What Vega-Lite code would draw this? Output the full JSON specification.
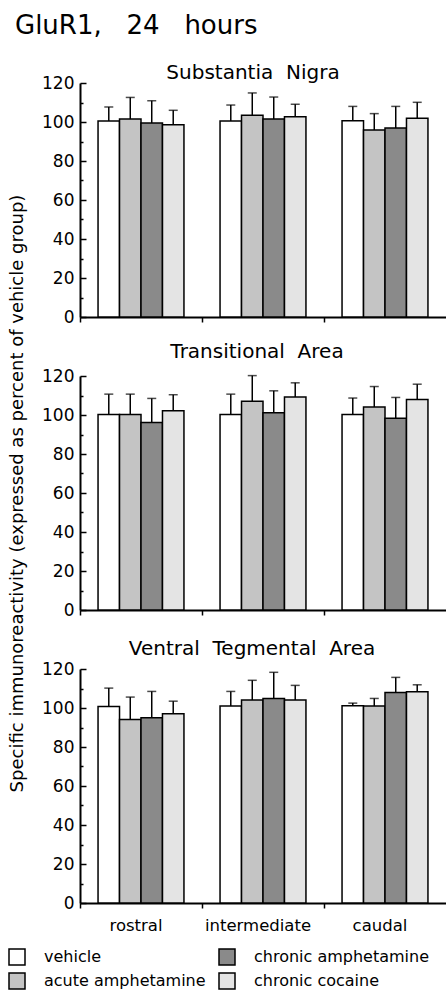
{
  "$schema": "https://vega.github.io/schema/vega-lite/v6.json",
  "padding": {"left": 8, "top": 13, "right": 0, "bottom": 5},
  "config": {
    "font": "DejaVu Sans",
    "view": {"stroke": null}
  },
  "title": {"text": "GluR1,\u00a0 \u00a024\u00a0 \u00a0hours", "anchor": "start", "fontSize": 26, "font": "DejaVu Sans", "fontWeight": "normal", "color": "black", "offset": 24, "dx": 7},
  "bounds": "flush",
  "spacing": 59,
  "datasets": {
    "glur": [
      {"region": "Substantia Nigra", "level": "rostral", "treatment": "vehicle", "value": 100.5, "upper": 107.7},
      {"region": "Substantia Nigra", "level": "rostral", "treatment": "acute amphetamine", "value": 101.5, "upper": 112.6},
      {"region": "Substantia Nigra", "level": "rostral", "treatment": "chronic amphetamine", "value": 99.5, "upper": 110.9},
      {"region": "Substantia Nigra", "level": "rostral", "treatment": "chronic cocaine", "value": 98.6, "upper": 106.0},
      {"region": "Substantia Nigra", "level": "intermediate", "treatment": "vehicle", "value": 100.5, "upper": 108.7},
      {"region": "Substantia Nigra", "level": "intermediate", "treatment": "acute amphetamine", "value": 103.4, "upper": 114.9},
      {"region": "Substantia Nigra", "level": "intermediate", "treatment": "chronic amphetamine", "value": 101.5, "upper": 112.8},
      {"region": "Substantia Nigra", "level": "intermediate", "treatment": "chronic cocaine", "value": 102.7, "upper": 109.1},
      {"region": "Substantia Nigra", "level": "caudal", "treatment": "vehicle", "value": 100.7, "upper": 108.0},
      {"region": "Substantia Nigra", "level": "caudal", "treatment": "acute amphetamine", "value": 95.9, "upper": 104.3},
      {"region": "Substantia Nigra", "level": "caudal", "treatment": "chronic amphetamine", "value": 96.9, "upper": 108.0},
      {"region": "Substantia Nigra", "level": "caudal", "treatment": "chronic cocaine", "value": 101.9, "upper": 110.1},
      {"region": "Transitional Area", "level": "rostral", "treatment": "vehicle", "value": 100.2, "upper": 110.7},
      {"region": "Transitional Area", "level": "rostral", "treatment": "acute amphetamine", "value": 100.2, "upper": 110.7},
      {"region": "Transitional Area", "level": "rostral", "treatment": "chronic amphetamine", "value": 96.1, "upper": 108.5},
      {"region": "Transitional Area", "level": "rostral", "treatment": "chronic cocaine", "value": 102.2, "upper": 110.4},
      {"region": "Transitional Area", "level": "intermediate", "treatment": "vehicle", "value": 100.2, "upper": 110.7},
      {"region": "Transitional Area", "level": "intermediate", "treatment": "acute amphetamine", "value": 107.1, "upper": 120.2},
      {"region": "Transitional Area", "level": "intermediate", "treatment": "chronic amphetamine", "value": 101.2, "upper": 112.4},
      {"region": "Transitional Area", "level": "intermediate", "treatment": "chronic cocaine", "value": 109.2, "upper": 116.5},
      {"region": "Transitional Area", "level": "caudal", "treatment": "vehicle", "value": 100.2, "upper": 108.7},
      {"region": "Transitional Area", "level": "caudal", "treatment": "acute amphetamine", "value": 104.1, "upper": 114.6},
      {"region": "Transitional Area", "level": "caudal", "treatment": "chronic amphetamine", "value": 98.3, "upper": 109.0},
      {"region": "Transitional Area", "level": "caudal", "treatment": "chronic cocaine", "value": 108.0, "upper": 115.8},
      {"region": "Ventral Tegmental Area", "level": "rostral", "treatment": "vehicle", "value": 100.8, "upper": 110.2},
      {"region": "Ventral Tegmental Area", "level": "rostral", "treatment": "acute amphetamine", "value": 94.1, "upper": 105.6},
      {"region": "Ventral Tegmental Area", "level": "rostral", "treatment": "chronic amphetamine", "value": 95.0, "upper": 108.5},
      {"region": "Ventral Tegmental Area", "level": "rostral", "treatment": "chronic cocaine", "value": 97.0, "upper": 103.5},
      {"region": "Ventral Tegmental Area", "level": "intermediate", "treatment": "vehicle", "value": 101.0, "upper": 108.5},
      {"region": "Ventral Tegmental Area", "level": "intermediate", "treatment": "acute amphetamine", "value": 104.1, "upper": 114.2},
      {"region": "Ventral Tegmental Area", "level": "intermediate", "treatment": "chronic amphetamine", "value": 104.9, "upper": 118.3},
      {"region": "Ventral Tegmental Area", "level": "intermediate", "treatment": "chronic cocaine", "value": 104.1, "upper": 111.6},
      {"region": "Ventral Tegmental Area", "level": "caudal", "treatment": "vehicle", "value": 101.1, "upper": 102.5},
      {"region": "Ventral Tegmental Area", "level": "caudal", "treatment": "acute amphetamine", "value": 101.0, "upper": 104.9},
      {"region": "Ventral Tegmental Area", "level": "caudal", "treatment": "chronic amphetamine", "value": 108.0, "upper": 115.7},
      {"region": "Ventral Tegmental Area", "level": "caudal", "treatment": "chronic cocaine", "value": 108.3, "upper": 111.9}
    ]
  },
  "vconcat": [
    {
      "width": 366, "height": 234,
      "resolve": {"axis": {"y": "independent"}},
      "layer": [
        {"data": {"name": "glur"},
          "transform": [{"filter": "datum.region == 'Substantia Nigra'"}],
          "mark": {"type": "bar", "stroke": "black", "strokeWidth": 1.5},
          "encoding": {
            "x": {"field": "level", "type": "nominal", "scale": {"domain": ["rostral", "intermediate", "caudal"], "paddingInner": 0, "paddingOuter": 0},
              "axis": {"title": null, "labels": false, "bandPosition": 0, "tickSize": 5, "tickWidth": 1.5, "tickColor": "black", "domainColor": "black", "domainWidth": 2}},
            "xOffset": {"field": "treatment", "type": "nominal", "scale": {"domain": ["vehicle", "acute amphetamine", "chronic amphetamine", "chronic cocaine"], "paddingInner": 0, "paddingOuter": 0.84}},
            "y": {"field": "value", "type": "quantitative", "scale": {"domain": [0, 120]},
              "axis": {"title": null, "orient": "left", "values": [0, 20, 40, 60, 80, 100, 120], "labelOverlap": false, "grid": false, "tickSize": -6, "tickWidth": 1.5, "tickColor": "black", "domainColor": "black", "domainWidth": 2, "labelFontSize": 17, "labelColor": "black", "labelPadding": 12}},
            "fill": {"field": "treatment", "type": "nominal", "scale": {"domain": ["vehicle", "acute amphetamine", "chronic amphetamine", "chronic cocaine"], "range": ["#ffffff", "#c4c4c4", "#8a8a8a", "#e4e4e4"]},
              "legend": {"orient": "none", "legendX": -72, "legendY": 865, "title": null, "columns": 2, "symbolType": "square", "symbolSize": 256, "symbolStrokeColor": "black", "symbolStrokeWidth": 1.5, "labelFontSize": 16, "labelLimit": 300, "labelColor": "black", "labelOffset": 18, "columnPadding": 10, "rowPadding": 2}}
          }},
        {"data": {"name": "glur"},
          "transform": [{"filter": "datum.region == 'Substantia Nigra'"}],
          "mark": {"type": "rule", "strokeWidth": 1.5, "color": "black"},
          "encoding": {
            "x": {"field": "level", "type": "nominal"},
            "xOffset": {"field": "treatment", "type": "nominal"},
            "y": {"field": "value", "type": "quantitative",
              "axis": {"title": null, "orient": "left", "values": [10, 30, 50, 70, 90, 110], "labels": false, "domain": false, "grid": false, "tickSize": -3, "tickWidth": 1.5, "tickColor": "black"}},
            "y2": {"field": "upper"}
          }},
        {"data": {"name": "glur"},
          "transform": [{"filter": "datum.region == 'Substantia Nigra'"}],
          "mark": {"type": "tick", "orient": "horizontal", "size": 9, "thickness": 1.5, "color": "black"},
          "encoding": {
            "x": {"field": "level", "type": "nominal"},
            "xOffset": {"field": "treatment", "type": "nominal"},
            "y": {"field": "upper", "type": "quantitative", "axis": null}
          }},
        {"data": {"values": [{"panel": "Substantia\u00a0 Nigra", "level": "intermediate", "top": 120}]},
          "mark": {"type": "text", "fontSize": 20, "baseline": "alphabetic", "dy": -4, "dx": -10, "color": "black"},
          "encoding": {
            "x": {"field": "level", "type": "nominal"},
            "y": {"field": "top", "type": "quantitative", "axis": null},
            "text": {"field": "panel"}
          }}
      ]
    },
    {
      "width": 366, "height": 234,
      "resolve": {"axis": {"y": "independent"}},
      "layer": [
        {"data": {"name": "glur"},
          "transform": [{"filter": "datum.region == 'Transitional Area'"}],
          "mark": {"type": "bar", "stroke": "black", "strokeWidth": 1.5},
          "encoding": {
            "x": {"field": "level", "type": "nominal", "scale": {"domain": ["rostral", "intermediate", "caudal"], "paddingInner": 0, "paddingOuter": 0},
              "axis": {"title": null, "labels": false, "bandPosition": 0, "tickSize": 5, "tickWidth": 1.5, "tickColor": "black", "domainColor": "black", "domainWidth": 2}},
            "xOffset": {"field": "treatment", "type": "nominal", "scale": {"domain": ["vehicle", "acute amphetamine", "chronic amphetamine", "chronic cocaine"], "paddingInner": 0, "paddingOuter": 0.84}},
            "y": {"field": "value", "type": "quantitative", "scale": {"domain": [0, 120]},
              "axis": {"title": "Specific immunoreactivity (expressed as percent of vehicle group)", "titleFontSize": 18, "titleFontWeight": "normal", "titleColor": "black", "titlePadding": 15, "titleAnchor": "middle", "orient": "left", "values": [0, 20, 40, 60, 80, 100, 120], "labelOverlap": false, "grid": false, "tickSize": -6, "tickWidth": 1.5, "tickColor": "black", "domainColor": "black", "domainWidth": 2, "labelFontSize": 17, "labelColor": "black", "labelPadding": 12}},
            "fill": {"field": "treatment", "type": "nominal", "scale": {"domain": ["vehicle", "acute amphetamine", "chronic amphetamine", "chronic cocaine"], "range": ["#ffffff", "#c4c4c4", "#8a8a8a", "#e4e4e4"]},
              "legend": {"orient": "none", "legendX": -72, "legendY": 865, "title": null, "columns": 2, "symbolType": "square", "symbolSize": 256, "symbolStrokeColor": "black", "symbolStrokeWidth": 1.5, "labelFontSize": 16, "labelLimit": 300, "labelColor": "black", "labelOffset": 18, "columnPadding": 10, "rowPadding": 2}}
          }},
        {"data": {"name": "glur"},
          "transform": [{"filter": "datum.region == 'Transitional Area'"}],
          "mark": {"type": "rule", "strokeWidth": 1.5, "color": "black"},
          "encoding": {
            "x": {"field": "level", "type": "nominal"},
            "xOffset": {"field": "treatment", "type": "nominal"},
            "y": {"field": "value", "type": "quantitative",
              "axis": {"title": null, "orient": "left", "values": [10, 30, 50, 70, 90, 110], "labels": false, "domain": false, "grid": false, "tickSize": -3, "tickWidth": 1.5, "tickColor": "black"}},
            "y2": {"field": "upper"}
          }},
        {"data": {"name": "glur"},
          "transform": [{"filter": "datum.region == 'Transitional Area'"}],
          "mark": {"type": "tick", "orient": "horizontal", "size": 9, "thickness": 1.5, "color": "black"},
          "encoding": {
            "x": {"field": "level", "type": "nominal"},
            "xOffset": {"field": "treatment", "type": "nominal"},
            "y": {"field": "upper", "type": "quantitative", "axis": null}
          }},
        {"data": {"values": [{"panel": "Transitional\u00a0 Area", "level": "intermediate", "top": 120}]},
          "mark": {"type": "text", "fontSize": 20, "baseline": "alphabetic", "dy": -18, "dx": -6, "color": "black"},
          "encoding": {
            "x": {"field": "level", "type": "nominal"},
            "y": {"field": "top", "type": "quantitative", "axis": null},
            "text": {"field": "panel"}
          }}
      ]
    },
    {
      "width": 366, "height": 234,
      "resolve": {"axis": {"y": "independent"}},
      "layer": [
        {"data": {"name": "glur"},
          "transform": [{"filter": "datum.region == 'Ventral Tegmental Area'"}],
          "mark": {"type": "bar", "stroke": "black", "strokeWidth": 1.5},
          "encoding": {
            "x": {"field": "level", "type": "nominal", "scale": {"domain": ["rostral", "intermediate", "caudal"], "paddingInner": 0, "paddingOuter": 0},
              "axis": {"title": null, "labels": true, "labelAngle": 0, "labelFontSize": 16.5, "labelColor": "black", "labelPadding": 9, "labelOffset": -5, "bandPosition": 0, "tickSize": 5, "tickWidth": 1.5, "tickColor": "black", "domainColor": "black", "domainWidth": 2}},
            "xOffset": {"field": "treatment", "type": "nominal", "scale": {"domain": ["vehicle", "acute amphetamine", "chronic amphetamine", "chronic cocaine"], "paddingInner": 0, "paddingOuter": 0.84}},
            "y": {"field": "value", "type": "quantitative", "scale": {"domain": [0, 120]},
              "axis": {"title": null, "orient": "left", "values": [0, 20, 40, 60, 80, 100, 120], "labelOverlap": false, "grid": false, "tickSize": -6, "tickWidth": 1.5, "tickColor": "black", "domainColor": "black", "domainWidth": 2, "labelFontSize": 17, "labelColor": "black", "labelPadding": 12}},
            "fill": {"field": "treatment", "type": "nominal", "scale": {"domain": ["vehicle", "acute amphetamine", "chronic amphetamine", "chronic cocaine"], "range": ["#ffffff", "#c4c4c4", "#8a8a8a", "#e4e4e4"]},
              "legend": {"orient": "none", "legendX": -72, "legendY": 865, "title": null, "columns": 2, "symbolType": "square", "symbolSize": 256, "symbolStrokeColor": "black", "symbolStrokeWidth": 1.5, "labelFontSize": 16, "labelLimit": 300, "labelColor": "black", "labelOffset": 18, "columnPadding": 10, "rowPadding": 2}}
          }},
        {"data": {"name": "glur"},
          "transform": [{"filter": "datum.region == 'Ventral Tegmental Area'"}],
          "mark": {"type": "rule", "strokeWidth": 1.5, "color": "black"},
          "encoding": {
            "x": {"field": "level", "type": "nominal"},
            "xOffset": {"field": "treatment", "type": "nominal"},
            "y": {"field": "value", "type": "quantitative",
              "axis": {"title": null, "orient": "left", "values": [10, 30, 50, 70, 90, 110], "labels": false, "domain": false, "grid": false, "tickSize": -3, "tickWidth": 1.5, "tickColor": "black"}},
            "y2": {"field": "upper"}
          }},
        {"data": {"name": "glur"},
          "transform": [{"filter": "datum.region == 'Ventral Tegmental Area'"}],
          "mark": {"type": "tick", "orient": "horizontal", "size": 9, "thickness": 1.5, "color": "black"},
          "encoding": {
            "x": {"field": "level", "type": "nominal"},
            "xOffset": {"field": "treatment", "type": "nominal"},
            "y": {"field": "upper", "type": "quantitative", "axis": null}
          }},
        {"data": {"values": [{"panel": "Ventral\u00a0 Tegmental\u00a0 Area", "level": "intermediate", "top": 120}]},
          "mark": {"type": "text", "fontSize": 20, "baseline": "alphabetic", "dy": -14, "dx": -11, "color": "black"},
          "encoding": {
            "x": {"field": "level", "type": "nominal"},
            "y": {"field": "top", "type": "quantitative", "axis": null},
            "text": {"field": "panel"}
          }}
      ]
    }
  ]
}
